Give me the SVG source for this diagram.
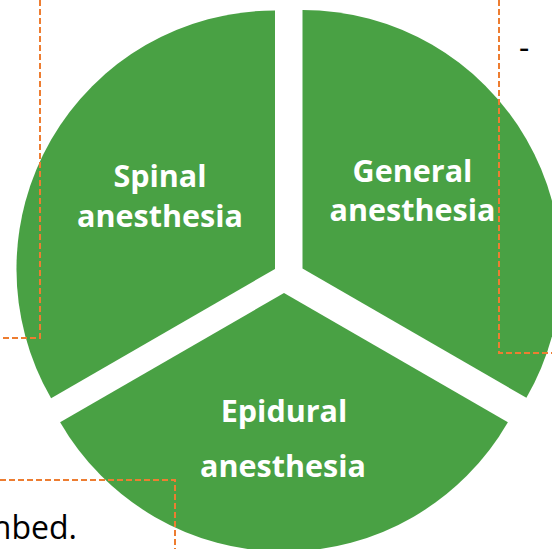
<svg xmlns="http://www.w3.org/2000/svg" width="552" height="549" viewBox="0 0 552 549">
  <style>
    .slice { fill: #49A144; }
    .label { fill: #FFFFFF; font-family: "Open Sans", "Liberation Sans", sans-serif; font-weight: bold; font-size: 30.5px; text-anchor: middle; }
    .frame { fill: none; stroke: #ED7D31; stroke-width: 2; stroke-dasharray: 6 3; }
    .body { fill: #000000; font-family: "Open Sans", "Liberation Sans", sans-serif; font-size: 32px; }
  </style>
  <rect width="552" height="549" fill="#FFFFFF"/>
  <g id="spinal">
    <path class="slice" d="M 275 269 L 275 10.5 A 258.5 258.5 0 0 0 51.1 398.25 Z"/>
    <text class="label" x="160" y="187">Spinal</text>
    <text class="label" x="160" y="227">anesthesia</text>
  </g>
  <g id="general">
    <path class="slice" d="M 302.5 268.5 L 302.5 10 A 258.5 258.5 0 0 1 526.4 397.75 Z"/>
    <text class="label" x="412.5" y="182">General</text>
    <text class="label" x="412.5" y="221">anesthesia</text>
  </g>
  <g id="epidural">
    <path class="slice" d="M 284 293 L 60.1 422.25 A 258.5 258.5 0 0 0 507.9 422.25 Z"/>
    <text class="label" x="284" y="422">Epidural</text>
    <text class="label" x="283" y="477">anesthesia</text>
  </g>
  <g id="connectors">
    <path class="frame" d="M 40 0 V 338 H 0"/>
    <path class="frame" d="M 499 0 V 353 H 552"/>
    <path class="frame" d="M 0 480 H 175 V 549"/>
  </g>
  <text class="body" x="519" y="59">-</text>
  <text class="body" x="77" y="539" text-anchor="end">nbed.</text>
</svg>
